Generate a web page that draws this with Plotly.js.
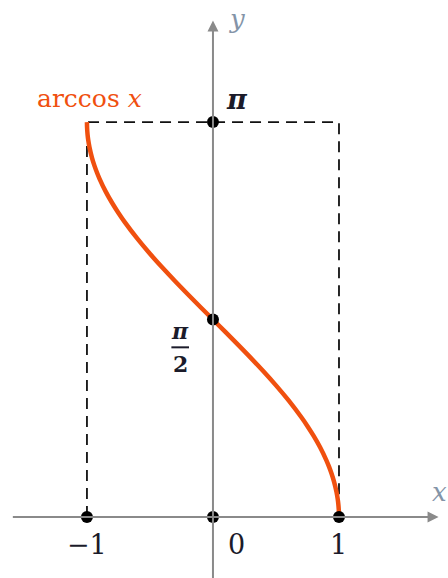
<!DOCTYPE html>
<html>
<head>
<meta charset="utf-8">
<script src="https://cdn.plot.ly/plotly-3.0.1.min.js"></script>
<style>
  html, body { margin: 0; padding: 0; background: #fff; }
  #chart { width: 448px; height: 578px; }
</style>
</head>
<body>
<div id="chart"></div>
<script>
// sample points for the curve y = arccos x on [-1, 1]
const xs = [-1, -0.999, -0.995, -0.99, -0.98, -0.96, -0.94, -0.92, -0.9, -0.85, -0.8, -0.75, -0.7, -0.6, -0.5, -0.4, -0.3, -0.2, -0.1, 0,
  0.1, 0.2, 0.3, 0.4, 0.5, 0.6, 0.7, 0.75, 0.8, 0.85, 0.9, 0.92, 0.94, 0.96, 0.98, 0.99, 0.995, 0.999, 1]
const ys = xs.map(v => Math.acos(v))

// marked points
const dotX = [-1, 0, 1, 0, 0]
const dotY = [0, 0, 0, Math.PI, Math.PI / 2]

// dashed box
const boxX = [-1, -1, 1, 1]
const boxY = [0, Math.PI, Math.PI, 0]

const serif = "'DejaVu Serif', 'Liberation Serif', serif"
const ink = '#1b1b2a'
const axisGray = '#8a8a8a'
const curveColor = '#f0500f'

var boxTrace = {
  x: boxX, y: boxY,
  mode: 'lines',
  line: { color: '#111', width: 1.8, dash: '11px,7px' },
  hoverinfo: 'skip'
}

var curveTrace = {
  x: xs, y: ys,
  mode: 'lines',
  line: { color: curveColor, width: 4.5, shape: 'spline' },
  hoverinfo: 'skip'
}

var dotTrace = {
  x: dotX, y: dotY,
  mode: 'markers',
  marker: { color: '#000', size: 12 },
  hoverinfo: 'skip'
}

var label = (x, y, text, opts) => Object.assign({
  x: x, y: y, xref: 'x', yref: 'y', text: text, showarrow: false,
  font: { family: serif, size: 27, color: ink }
}, opts || {})

var arrow = (x, y, ax, ay) => ({
  x: x, y: y, ax: ax, ay: ay, xref: 'x', yref: 'y', axref: 'x', ayref: 'y',
  text: '', showarrow: true, arrowhead: 2, arrowsize: 1.1, arrowwidth: 2, arrowcolor: axisGray
})

var layout = {
  width: 448,
  height: 578,
  margin: { l: 0, r: 0, t: 0, b: 0 },
  paper_bgcolor: '#fff',
  plot_bgcolor: '#fff',
  showlegend: false,
  xaxis: { range: [-1.69, 1.865], visible: false, fixedrange: true },
  yaxis: { range: [-0.485, 4.113], visible: false, fixedrange: true },
  annotations: [
    arrow(1.79, 0, -1.6, 0),
    arrow(0, 3.95, 0, -0.5),
    label(1.8, 0.2, '<i>x</i>', { font: { family: serif, size: 26, color: '#8494a8' } }),
    label(0.19, 3.96, '<i>y</i>', { font: { family: serif, size: 26, color: '#8494a8' } }),
    label(-1.0, -0.22, '−1'),
    label(0.19, -0.22, '0'),
    label(1.0, -0.22, '1'),
    label(0.19, 3.32, '<b><i>π</i></b>'),
    label(-0.26, 1.48, '<b><i>π</i></b>', { font: { family: serif, size: 22, color: ink } }),
    label(-0.26, 1.22, '<b>2</b>', { font: { family: serif, size: 22, color: ink } }),
    label(-0.98, 3.33, 'arccos <i>x</i>', { font: { family: serif, size: 25, color: curveColor } })
  ],
  shapes: [
    { type: 'line', xref: 'x', yref: 'y', x0: -0.33, x1: -0.19, y0: 1.35, y1: 1.35, line: { color: ink, width: 2 } }
  ]
}

Plotly.newPlot('chart', [boxTrace, curveTrace, dotTrace], layout, { staticPlot: true })
</script>
</body>
</html>
